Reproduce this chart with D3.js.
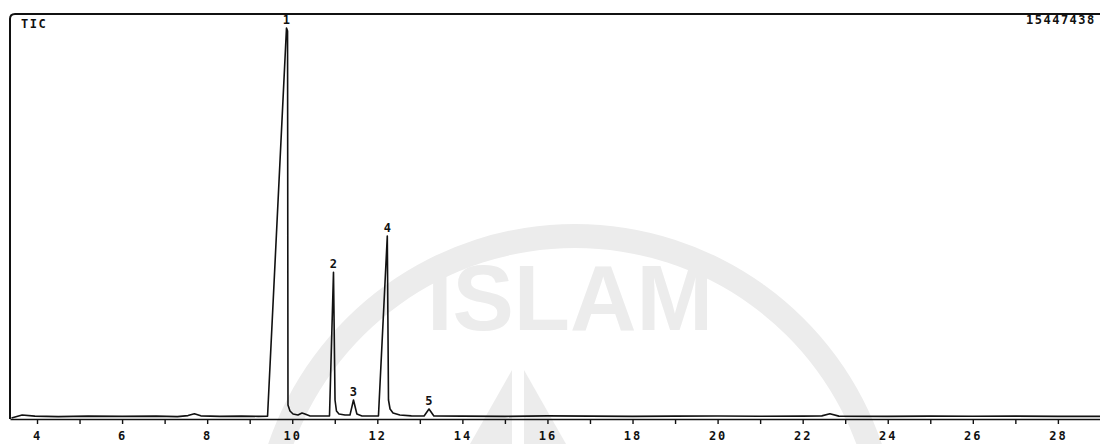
<!DOCTYPE html>
<html lang="en">
<head>
<meta charset="utf-8">
<title>TIC chromatogram</title>
<script src="https://d3js.org/d3.v7.min.js"></script>
<style>
  body { margin: 0; background: #fff; }
  .mono { font-family: "DejaVu Sans Mono", monospace; font-weight: bold; fill: #111; }
  .axis text { font-family: "DejaVu Sans Mono", monospace; font-weight: bold; font-size: 12px; letter-spacing: 2px; fill: #111; }
  .axis path, .axis line { stroke: #111; stroke-width: 1.4; }
</style>
</head>
<body>
<div id="chart"></div>
<script>
// retention time (min) and total ion count
var timeMin = [3.40, 3.65, 3.95, 4.50, 5.20, 6.00, 6.80, 7.30, 7.55, 7.70, 7.85, 8.30, 8.80, 9.20,
               9.42, 9.865, 9.89, 9.90, 9.947, 10.02, 10.135, 10.23, 10.30, 10.42,
               10.876, 10.97, 11.006, 11.04, 11.10, 11.24,
               11.357, 11.44, 11.52, 11.64, 11.83,
               12.027, 12.235, 12.263, 12.30, 12.37, 12.53, 12.80,
               13.10, 13.215, 13.33,
               14.0, 15.0, 16.0, 17.0, 18.0, 19.0, 20.0, 21.0, 22.0, 22.45, 22.64, 22.85,
               24.0, 25.0, 26.0, 27.0, 28.0, 29.0];
var abundance = [40000, 150000, 110000, 90000, 110000, 100000, 110000, 90000, 130000, 200000, 120000, 100000, 110000, 100000,
                 110000, 14910000, 14800000, 534000, 305000, 190000, 150000, 230000, 190000, 115000,
                 114000, 5600000, 725000, 305000, 190000, 150000,
                 150000, 725000, 190000, 114000, 114000,
                 114000, 6980000, 725000, 381000, 229000, 153000, 120000,
                 114000, 381000, 114000,
                 110000, 100000, 120000, 110000, 100000, 110000, 115000, 105000, 110000, 120000, 200000, 110000,
                 100000, 110000, 105000, 110000, 100000, 100000];

// peak numbers
var peakNo = ["1", "2", "3", "4", "5"];
var peakTime = [9.865, 10.97, 11.44, 12.235, 13.215];
var peakTop = [14910000, 5600000, 725000, 6980000, 381000];

// axis
var majorTicks = [4, 6, 8, 10, 12, 14, 16, 18, 20, 22, 24, 26, 28];
var minorTicks = [5, 7, 9, 11, 13, 15, 17, 19, 21, 23, 25, 27];
var maxLabel = "15447438";
var yMax = 15447438;

var w = 1100, h = 444;

var svg = d3.select('#chart')
    .append('svg')
    .attr('width', w)
    .attr('height', h);

var x = d3.scaleLinear().domain([3.365, 28.99]).range([10, 1100]);
var y = d3.scaleLinear().domain([0, yMax]).range([419, 14]);

// faint watermark behind the chart
var wm = svg.append('g').attr('fill', '#ececec');
wm.append('path')
    .attr('transform', 'translate(575,548)')
    .attr('d', d3.arc()({innerRadius: 300, outerRadius: 324, startAngle: -1.25, endAngle: 1.25}));
wm.append('text')
    .attr('font-family', 'Liberation Sans, Arial, sans-serif')
    .attr('font-weight', 'bold')
    .attr('font-size', 92)
    .attr('text-anchor', 'middle')
    .attr('x', 570)
    .attr('y', 330)
    .text('ISLAM');
wm.append('path').attr('d', 'M 470 444 L 512 370 L 512 444 Z');
wm.append('path').attr('d', 'M 524 444 L 524 370 L 566 444 Z');

// frame (left side and top)
svg.append('path')
    .attr('d', 'M10,419 L10,19 Q10,14 15,14 L1100,14')
    .attr('fill', 'none')
    .attr('stroke', '#111')
    .attr('stroke-width', 2);

// x axis
var xAxis = d3.axisBottom(x)
    .tickValues(majorTicks.concat(minorTicks))
    .tickFormat(function (d) { return majorTicks.indexOf(d) >= 0 ? d : ''; })
    .tickSize(5)
    .tickSizeOuter(0)
    .tickPadding(7);

svg.append('g')
    .attr('class', 'axis')
    .attr('transform', 'translate(0,419)')
    .call(xAxis);

// TIC trace
var line = d3.line()
    .x(function (d, i) { return x(timeMin[i]); })
    .y(function (d) { return y(d); });

svg.append('path')
    .datum(abundance)
    .attr('d', line)
    .attr('fill', 'none')
    .attr('stroke', '#111')
    .attr('stroke-width', 1.6)
    .attr('stroke-linejoin', 'round');

// peak labels
svg.selectAll('text.peak')
    .data(peakNo)
    .enter()
    .append('text')
    .attr('class', 'peak mono')
    .attr('font-size', 12)
    .attr('text-anchor', 'middle')
    .attr('x', function (d, i) { return x(peakTime[i]); })
    .attr('y', function (d, i) { return y(peakTop[i]) - 4; })
    .text(function (d) { return d; });

// corner texts
svg.append('text')
    .attr('class', 'mono')
    .attr('font-size', 12)
    .attr('letter-spacing', 1.5)
    .attr('x', 21)
    .attr('y', 28)
    .text('TIC');

svg.append('text')
    .attr('class', 'mono')
    .attr('font-size', 12)
    .attr('letter-spacing', 1.5)
    .attr('x', 1026)
    .attr('y', 24)
    .text(maxLabel);
</script>
</body>
</html>
